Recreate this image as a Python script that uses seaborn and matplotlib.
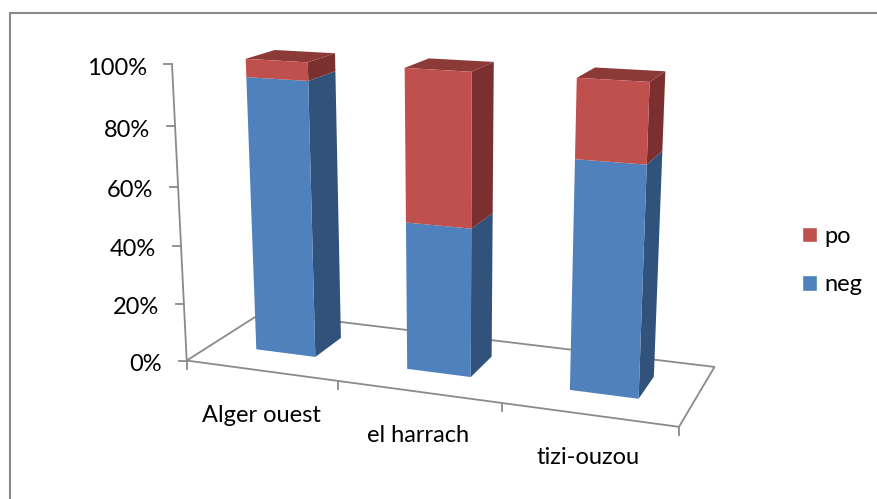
import numpy as np
import pandas as pd
import seaborn as sns
import matplotlib
matplotlib.use("Agg")
import matplotlib.pyplot as plt
from matplotlib.patches import Polygon, Patch
from matplotlib.lines import Line2D
from matplotlib.transforms import Transform

# ---- data ----
sites = ["Alger ouest", "el harrach", "tizi-ouzou"]
neg = [0.94, 0.50, 0.75]
po = [0.06, 0.50, 0.25]
y_ticks = [0.0, 0.2, 0.4, 0.6, 0.8, 1.0]
y_labels = ["0%", "20%", "40%", "60%", "80%", "100%"]

BLUE, RED = "#4F81BD", "#C0504D"
BLUE_SIDE, RED_SIDE, RED_TOP = "#31527A", "#7B302F", "#8C3A38"
GREY = "#8A8A8A"
W, H = 877, 499
BAR_W, Z0, Z1 = 0.4, 0.33, 0.71

# perspective camera of the chart: (x, value, depth) -> pixel
CAM = np.array([[138.974718, -23.72761, 100.779458, 186.710493],
                [6.297403, -299.619176, -17.713341, 360.549213],
                [-0.037005, -0.052418, 0.096883, 1.0]])


def project(x, y, z):
    p = CAM @ np.array([x, y, z, 1.0])
    return p[0] / p[2], p[1] / p[2]


class FrontFace(Transform):
    """Maps (bar position, value) on the plane of the bars' front faces to pixels."""
    input_dims = output_dims = 2

    def transform_non_affine(self, pts):
        pts = np.asarray(pts, float)
        return np.array([project(px + 0.5, py, Z0) for px, py in pts])


sns.set_theme(style="white")
plt.rcParams["font.family"] = ["Lato", "DejaVu Sans"]
FS = 17
fig = plt.figure(figsize=(W / 100, H / 100), dpi=100, facecolor="white")
ax = fig.add_axes([0, 0, 1, 1])

pos = np.arange(len(sites))
df = pd.DataFrame({"pos": pos, "site": sites, "neg": neg, "po": po})
sns.barplot(data=df, x="pos", y="neg", native_scale=True, color=BLUE, saturation=1,
            width=BAR_W, linewidth=0, ax=ax)
sns.barplot(data=df, x="pos", y="po", bottom=df["neg"].values, native_scale=True, color=RED, saturation=1,
            width=BAR_W, linewidth=0, ax=ax)
ax.set_xlim(0, W)
ax.set_ylim(H, 0)
ax.set_autoscale_on(False)
ax.axis("off")
for p in ax.patches:
    p.set_transform(FrontFace() + ax.transData)
    p.set_clip_on(False)
    p.set_zorder(3)


def line(pts, lw=1.3, color=GREY):
    ax.add_line(Line2D([q[0] for q in pts], [q[1] for q in pts], color=color, lw=lw, zorder=1,
                       solid_capstyle="projecting", solid_joinstyle="miter"))


def face(pts, color):
    ax.add_patch(Polygon(pts, closed=True, facecolor=color, edgecolor="none", zorder=2))


# chart frame
line([(9.7, H + 2), (9.7, 12.8), (W + 2, 12.8)], lw=1.5)

# floor and axes
nx = len(sites)
line([project(0, 0, 1), project(0, 0, 0), project(nx, 0, 0), project(nx, 0, 1), project(0, 0, 1)])
line([project(0, 0, 0), project(0, 1, 0)])
for i in range(nx + 1):
    u, v = project(i, 0, 0)
    line([(u, v), (u, v + 8.5)])
for t, lab in zip(y_ticks, y_labels):
    u, v = project(0, t, 0)
    line([(u - 8, v), (u, v)])
    fig.text((u - 25) / W, 1 - (v + 4) / H, lab, fontsize=FS, ha="right", va="center", color="black")

# sides and tops
for i in range(nx):
    x1 = i + 0.5 - BAR_W / 2
    x2 = i + 0.5 + BAR_W / 2
    n, tot = neg[i], neg[i] + po[i]
    face([project(x2, 0, Z0), project(x2, 0, Z1), project(x2, n, Z1), project(x2, n, Z0)], BLUE_SIDE)
    face([project(x2, n, Z0), project(x2, n, Z1), project(x2, tot, Z1), project(x2, tot, Z0)], RED_SIDE)
    face([project(x1, tot, Z0), project(x2, tot, Z0), project(x2, tot, Z1), project(x1, tot, Z1)], RED_TOP)

# category labels
for name, (cx, cy) in zip(sites, [(261, 416), (418, 435), (588, 458)]):
    fig.text(cx / W, 1 - cy / H, name, fontsize=FS, ha="center", va="center", color="black")

# legend
handles = [Patch(facecolor=RED, label="po"), Patch(facecolor=BLUE, label="neg")]
leg = ax.legend(handles=handles, frameon=False, fontsize=FS, loc="upper left",
                bbox_to_anchor=(802 / W, 1 - 226 / H), borderaxespad=0, borderpad=0,
                handlelength=0.635, handleheight=0.635, handletextpad=0.3, labelspacing=1.15,
                labelcolor="black")

fig.savefig("out.png", dpi=100, facecolor="white")
